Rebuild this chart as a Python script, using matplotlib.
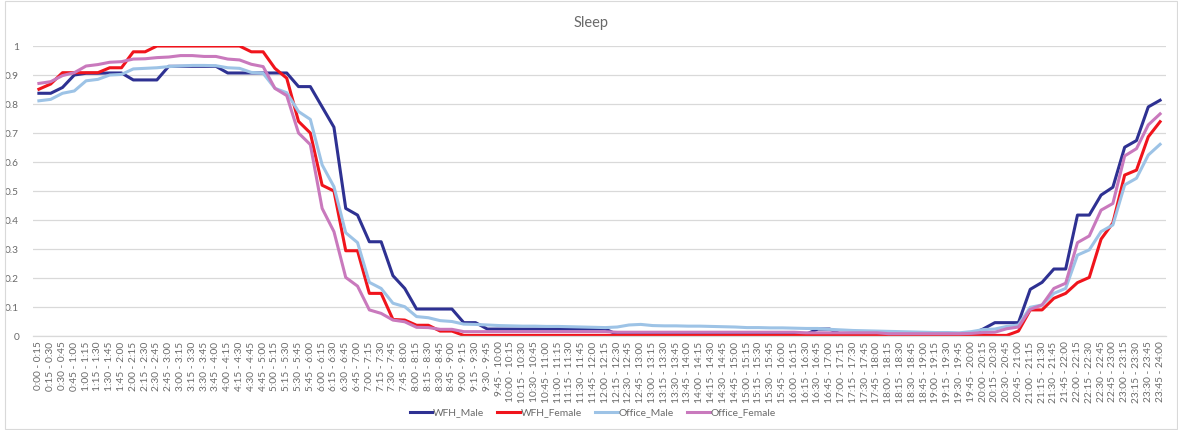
import matplotlib.pyplot as plt
from matplotlib.patches import Rectangle

# quarter-hour slots, "0:00 - 0:15" ... "23:45 - 24:00"
slots = [f'{m // 60}:{m % 60:02d} - {(m + 15) // 60}:{(m + 15) % 60:02d}'
         for m in range(0, 24 * 60, 15)]

wfh_male = [
    0.837, 0.837, 0.857, 0.900, 0.906, 0.906, 0.907, 0.907, 0.883, 0.883,
    0.883, 0.930, 0.930, 0.930, 0.930, 0.930, 0.907, 0.907, 0.907, 0.907,
    0.907, 0.907, 0.860, 0.860, 0.790, 0.720, 0.440, 0.417, 0.325, 0.325,
    0.208, 0.164, 0.093, 0.093, 0.093, 0.093, 0.046, 0.046, 0.024, 0.024,
    0.024, 0.024, 0.024, 0.024, 0.024, 0.024, 0.024, 0.024, 0.024, 0.005,
    0.005, 0.005, 0.005, 0.005, 0.005, 0.005, 0.005, 0.005, 0.005, 0.005,
    0.005, 0.005, 0.005, 0.005, 0.005, 0.006, 0.024, 0.024, 0.005, 0.005,
    0.005, 0.005, 0.005, 0.005, 0.005, 0.005, 0.005, 0.005, 0.005, 0.006,
    0.024, 0.046, 0.046, 0.046, 0.161, 0.185, 0.231, 0.231, 0.417, 0.417,
    0.486, 0.513, 0.651, 0.674, 0.790, 0.813,
]

wfh_female = [
    0.851, 0.869, 0.908, 0.908, 0.908, 0.908, 0.925, 0.925, 0.980, 0.980,
    1.000, 1.000, 1.000, 1.000, 1.000, 1.000, 1.000, 1.000, 0.980, 0.980,
    0.923, 0.889, 0.740, 0.700, 0.520, 0.500, 0.294, 0.294, 0.147, 0.147,
    0.057, 0.055, 0.037, 0.037, 0.017, 0.017, 0.002, 0.002, 0.002, 0.002,
    0.002, 0.002, 0.002, 0.002, 0.002, 0.002, 0.002, 0.002, 0.002, 0.002,
    0.002, 0.002, 0.002, 0.002, 0.002, 0.002, 0.002, 0.002, 0.002, 0.002,
    0.002, 0.002, 0.002, 0.002, 0.002, 0.002, 0.002, 0.002, 0.002, 0.002,
    0.002, 0.002, 0.002, 0.002, 0.002, 0.002, 0.002, 0.002, 0.002, 0.002,
    0.002, 0.002, 0.002, 0.017, 0.090, 0.090, 0.130, 0.147, 0.184, 0.202,
    0.334, 0.390, 0.555, 0.572, 0.687, 0.739,
]

office_male = [
    0.811, 0.816, 0.837, 0.845, 0.880, 0.885, 0.900, 0.902, 0.921, 0.923,
    0.925, 0.929, 0.931, 0.933, 0.933, 0.932, 0.925, 0.923, 0.909, 0.906,
    0.854, 0.839, 0.774, 0.747, 0.590, 0.515, 0.356, 0.322, 0.185, 0.164,
    0.113, 0.101, 0.067, 0.063, 0.053, 0.050, 0.041, 0.040, 0.038, 0.036,
    0.035, 0.034, 0.034, 0.033, 0.033, 0.032, 0.031, 0.030, 0.029, 0.031,
    0.038, 0.040, 0.036, 0.035, 0.035, 0.034, 0.034, 0.033, 0.032, 0.031,
    0.029, 0.029, 0.028, 0.028, 0.027, 0.026, 0.026, 0.023, 0.021, 0.019,
    0.018, 0.017, 0.016, 0.015, 0.014, 0.013, 0.012, 0.012, 0.011, 0.015,
    0.022, 0.024, 0.033, 0.038, 0.099, 0.107, 0.147, 0.164, 0.279, 0.297,
    0.360, 0.383, 0.521, 0.544, 0.624, 0.661,
]

office_female = [
    0.871, 0.877, 0.898, 0.908, 0.931, 0.936, 0.944, 0.946, 0.955, 0.956,
    0.960, 0.962, 0.967, 0.967, 0.964, 0.964, 0.955, 0.952, 0.937, 0.929,
    0.854, 0.829, 0.700, 0.660, 0.440, 0.360, 0.202, 0.172, 0.090, 0.078,
    0.055, 0.049, 0.030, 0.029, 0.023, 0.023, 0.015, 0.015, 0.015, 0.015,
    0.015, 0.015, 0.015, 0.015, 0.015, 0.015, 0.015, 0.015, 0.015, 0.013,
    0.013, 0.013, 0.013, 0.013, 0.013, 0.013, 0.013, 0.013, 0.013, 0.013,
    0.013, 0.013, 0.013, 0.013, 0.013, 0.011, 0.011, 0.011, 0.011, 0.011,
    0.011, 0.011, 0.008, 0.008, 0.008, 0.008, 0.008, 0.008, 0.008, 0.009,
    0.012, 0.013, 0.025, 0.031, 0.092, 0.107, 0.164, 0.182, 0.322, 0.345,
    0.434, 0.457, 0.621, 0.646, 0.728, 0.766,
]

series = [
    ('WFH_Male', wfh_male, '#2E3192'),
    ('WFH_Female', wfh_female, '#F0141C'),
    ('Office_Male', office_male, '#9DC3E6'),
    ('Office_Female', office_female, '#C979BD'),
]

text_col = '#6A6A6A'
grid_col = '#D9D9D9'
plt.rcParams['font.family'] = ['Lato', 'DejaVu Sans']

fig = plt.figure(figsize=(11.78, 4.30), dpi=100)
ax = fig.add_axes([0.028, 0.2186, 0.9618, 0.6744])

x = list(range(len(slots)))
for name, vals, col in series:
    ax.plot(x, vals, color=col, lw=2.2, label=name, solid_joinstyle='round')

ax.set_xlim(-0.5, len(slots) - 0.5)
ax.set_ylim(0, 1)
ax.set_yticks([i / 10 for i in range(11)])
ax.set_yticklabels(['0'] + [f'{i / 10:.1f}' for i in range(1, 10)] + ['1'])
ax.set_xticks(x)
ax.set_xticklabels(slots, rotation=90)
ax.tick_params(axis='both', length=0, colors=text_col, labelsize=7.3)
ax.tick_params(axis='y', pad=10)
ax.tick_params(axis='x', pad=4)

ax.grid(axis='y', color=grid_col, lw=0.9)
ax.set_axisbelow(True)
for side in ['top', 'right', 'left']:
    ax.spines[side].set_visible(False)
ax.spines['bottom'].set_color(grid_col)
ax.spines['bottom'].set_linewidth(0.9)

fig.text(0.502, 0.947, 'Sleep', ha='center', va='center', fontsize=10.5, color=text_col)

fig.legend(loc='center', bbox_to_anchor=(0.503, 0.04), ncol=4, frameon=False,
           fontsize=7.4, labelcolor=text_col, handlelength=2.2, handletextpad=0.05,
           columnspacing=1.3)

# light frame round the whole chart
fig.patches.append(Rectangle((0.004, 0.003), 0.995, 0.995, transform=fig.transFigure,
                             fill=False, edgecolor=grid_col, lw=0.8))

fig.savefig('out.png', dpi=100)
